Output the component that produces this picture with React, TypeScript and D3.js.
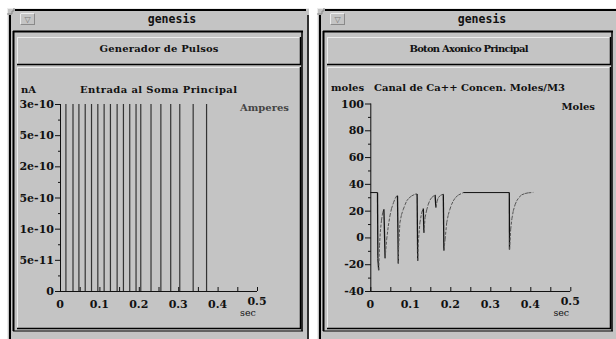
import React from "react";
import * as d3 from "d3";

// left window: pulse generator, amplitude in amperes
const pulseTimes = [0.015, 0.033, 0.048, 0.064, 0.08, 0.096, 0.112, 0.128, 0.145, 0.161, 0.177, 0.193, 0.205, 0.231, 0.256, 0.281, 0.304, 0.338, 0.372];
const pulseAmp = 3e-10;
const ampTicks = [0, 5e-11, 1e-10, 1.5e-10, 2e-10, 2.5e-10, 3e-10];
const ampTickLabels = ["0", "5e-11", "1e-10", "5e-10", "2e-10", "5e-10", "3e-10"];

// right window: Ca++ concentration trace [sec, moles]
const caTrace: [number, number][] = [
  [0, 33.5], [0.018, 33.5], [0.019, -16], [0.021, -24.5], [0.023, -6], [0.025, 4], [0.028, 13], [0.031, 18.5], [0.034, 21],
  [0.037, -15.5], [0.041, -1.3], [0.045, 8.5], [0.049, 16], [0.053, 21.5], [0.058, 26], [0.062, 29], [0.066, 31], [0.068, 31.2],
  [0.07, -19.4], [0.071, -6.3], [0.074, 11], [0.078, 17], [0.0825, 21], [0.087, 24.5], [0.091, 27.3], [0.097, 29.5], [0.1035, 31], [0.112, 32.3], [0.117, 32.5],
  [0.1185, -17.5], [0.12, -3.7], [0.124, 11], [0.1285, 18.7], [0.1325, 21.6],
  [0.134, 3.5], [0.137, 15], [0.141, 20.5], [0.145, 24.8], [0.149, 27.8], [0.1535, 29.8], [0.162, 31.8],
  [0.164, 22.4], [0.167, 27], [0.17, 29.8], [0.176, 31.5], [0.1825, 32.3],
  [0.184, -9.8], [0.187, -1.3], [0.191, 11], [0.195, 17], [0.199, 21], [0.203, 24.5], [0.2075, 27.3], [0.213, 29.8], [0.22, 31.6], [0.2325, 33.5],
  [0.3475, 33.5], [0.348, -9], [0.351, 6.2], [0.354, 14], [0.3575, 19.9], [0.362, 24.5], [0.366, 27.3], [0.372, 30], [0.3785, 31.8], [0.387, 32.8], [0.395, 33.3], [0.4075, 33.6],
];
const molesTicks = [-40, -20, 0, 20, 40, 60, 80, 100];

const timeTicks = [0, 0.1, 0.2, 0.3, 0.4, 0.5];
const timeMinor = d3.range(0, 0.5001, 0.05);

const BG = "#c4c4c4";
const LIGHT = "#ececec";
const DARK = "#000";
const LABEL_FONT = "'DejaVu Serif', serif";

function Window({ dx, title, children }: { dx: number; title: string; children?: React.ReactNode }) {
  return (
    <g transform={`translate(${dx},0)`}>
      {/* outer frame */}
      <rect x={7} y={8} width={302} height={340} fill={BG} />
      <line x1={7.5} y1={8} x2={7.5} y2={339} stroke={LIGHT} />
      <line x1={7} y1={8.5} x2={309} y2={8.5} stroke={LIGHT} />
      <path d="M7,14 L12,14 L12,11 L14,11 L14,8" fill="none" stroke="#888" />
      <line x1={15} y1={10} x2={306} y2={10} stroke={DARK} strokeWidth={2} />
      <line x1={10} y1={15} x2={10} y2={339} stroke={DARK} strokeWidth={2} />
      <line x1={308} y1={15} x2={308} y2={339} stroke={DARK} strokeWidth={1.5} />
      {/* menu button */}
      <rect x={20.5} y={13.5} width={14} height={11} fill={BG} stroke="#8a8a8a" />
      <line x1={20.5} y1={13.5} x2={34.5} y2={13.5} stroke={LIGHT} />
      <line x1={20.5} y1={13.5} x2={20.5} y2={24.5} stroke={LIGHT} />
      <text x={27.5} y={22} textAnchor="middle" fontSize={8} fill="#777" fontFamily="'DejaVu Sans'">▽</text>
      <text x={172} y={23} textAnchor="middle" fontSize={11.5} fontWeight="bold" fontFamily="'DejaVu Sans Mono', monospace" fill="#111">genesis</text>
      {/* inner border */}
      <line x1={13} y1={31.5} x2={303} y2={31.5} stroke={DARK} strokeWidth={2} />
      <line x1={13.5} y1={31} x2={13.5} y2={331} stroke={DARK} strokeWidth={2} />
      <line x1={302} y1={31} x2={302} y2={331} stroke={DARK} strokeWidth={1.5} />
      <line x1={13} y1={331} x2={303} y2={331} stroke={DARK} strokeWidth={1} />
      {/* title button */}
      <rect x={17} y={37} width={283} height={27} fill={BG} />
      <line x1={17} y1={37.5} x2={300} y2={37.5} stroke={LIGHT} />
      <line x1={17.5} y1={37} x2={17.5} y2={64} stroke={LIGHT} />
      <line x1={17} y1={64.5} x2={301} y2={64.5} stroke={DARK} strokeWidth={1.5} />
      <line x1={300.5} y1={37} x2={300.5} y2={65} stroke={DARK} strokeWidth={1.5} />
      <text x={159} y={52} textAnchor="middle" fontSize={10} fontWeight="bold" fontFamily={LABEL_FONT} textLength={119} fill="#111">{title}</text>
      {/* graph panel */}
      <line x1={17} y1={67.5} x2={300} y2={67.5} stroke={LIGHT} />
      <line x1={17.5} y1={67} x2={17.5} y2={328} stroke={LIGHT} />
      <line x1={17} y1={328.5} x2={301} y2={328.5} stroke={DARK} strokeWidth={1.5} />
      <line x1={300.5} y1={67} x2={300.5} y2={329} stroke={DARK} strokeWidth={1.5} />
      {children}
    </g>
  );
}

function TimeAxis({ x, y0 }: { x: d3.ScaleLinear<number, number>; y0: number }) {
  return (
    <g>
      <line x1={x(0)} y1={y0 + 0.5} x2={x(0.5)} y2={y0 + 0.5} stroke="#111" />
      {timeMinor.map((t, i) => (
        <line key={i} x1={x(t) + 0.5} x2={x(t) + 0.5} y1={y0} y2={y0 - 4} stroke="#111" />
      ))}
      {timeTicks.map((t, i) => (
        <text key={i} x={x(t)} y={i === 5 ? y0 + 14 : y0 + 17} textAnchor="middle" fontSize={11} fontWeight="bold" fontFamily={LABEL_FONT} fill="#111">
          {i === 0 ? "0" : d3.format(".1f")(t)}
        </text>
      ))}
      <text x={x(0.5) - 9} y={y0 + 25} textAnchor="middle" fontSize={9.5} fontFamily={LABEL_FONT} fill="#111">sec</text>
    </g>
  );
}

export default function App() {
  // left plot scales
  const xL = d3.scaleLinear().domain([0, 0.5]).range([60, 257]);
  const yL = d3.scaleLinear().domain([0, 3e-10]).range([291, 104]);
  // right plot scales (window shifted by 310)
  const xR = d3.scaleLinear().domain([0, 0.5]).range([60.3, 260.3]);
  const yR = d3.scaleLinear().domain([-40, 100]).range([291, 103.5]);

  const pts = caTrace.map(([t, v]) => [xR(t), yR(v)] as [number, number]);
  const segs = pts.slice(1).map((p, i) => ({ a: pts[i], b: p, fall: caTrace[i + 1][1] < caTrace[i][1] - 0.05, flat: Math.abs(caTrace[i + 1][1] - caTrace[i][1]) < 0.05 }));

  return (
    <svg width={616} height={339} style={{ position: "absolute", left: 0, top: 0, background: "#fff" }}>
      <Window dx={0} title="Generador de Pulsos">
        <text x={21} y={93} fontSize={10} fontWeight="bold" fontFamily={LABEL_FONT} fill="#111">nA</text>
        <text x={80} y={93} fontSize={10} fontWeight="bold" fontFamily={LABEL_FONT} textLength={157} fill="#111">Entrada al Soma Principal</text>
        <text x={289} y={111} textAnchor="end" fontSize={10} fontWeight="bold" fontFamily={LABEL_FONT} fill="#444">Amperes</text>
        {/* y axis */}
        <line x1={60.5} y1={yL(3e-10)} x2={60.5} y2={yL(0)} stroke="#111" />
        {ampTicks.map((v, i) => (
          <g key={i}>
            <line x1={55} x2={60.5} y1={yL(v) + 0.5} y2={yL(v) + 0.5} stroke="#111" />
            <text x={54} y={yL(v) + 4} textAnchor="end" fontSize={11} fontWeight="bold" fontFamily={LABEL_FONT} fill="#111">{ampTickLabels[i]}</text>
          </g>
        ))}
        {ampTicks.slice(1).map((v, i) => (
          <line key={i} x1={58} x2={60.5} y1={yL(v - 2.5e-11) + 0.5} y2={yL(v - 2.5e-11) + 0.5} stroke="#111" />
        ))}
        {pulseTimes.map((t, i) => (
          <line key={i} x1={xL(t)} x2={xL(t)} y1={yL(0)} y2={yL(pulseAmp)} stroke="#333" strokeWidth={1.2} />
        ))}
        <TimeAxis x={xL} y0={291} />
      </Window>

      <Window dx={310} title="Boton Axonico Principal">
        <text x={21} y={91} fontSize={10} fontWeight="bold" fontFamily={LABEL_FONT} fill="#111">moles</text>
        <text x={64} y={91} fontSize={10} fontWeight="bold" fontFamily={LABEL_FONT} textLength={191} fill="#111">Canal de Ca++ Concen. Moles/M3</text>
        <text x={285} y={110} textAnchor="end" fontSize={10} fontWeight="bold" fontFamily={LABEL_FONT} fill="#111">Moles</text>
        <line x1={60.8} y1={yR(100)} x2={60.8} y2={yR(-40)} stroke="#111" />
        {molesTicks.map((v, i) => (
          <g key={i}>
            <line x1={55} x2={60.8} y1={yR(v) + 0.5} y2={yR(v) + 0.5} stroke="#111" />
            <text x={54} y={yR(v) + 4} textAnchor="end" fontSize={11} fontWeight="bold" fontFamily={LABEL_FONT} fill="#111">{v}</text>
          </g>
        ))}
        {molesTicks.slice(1).map((v, i) => (
          <line key={i} x1={58} x2={60.8} y1={yR(v - 10) + 0.5} y2={yR(v - 10) + 0.5} stroke="#111" />
        ))}
        {segs.map((s, i) => (
          <line key={i} x1={s.a[0]} y1={s.a[1]} x2={s.b[0]} y2={s.b[1]}
            stroke={s.fall || s.flat ? "#111" : "#555"}
            strokeWidth={s.fall ? 1.3 : 1}
            strokeDasharray={s.fall || s.flat ? undefined : "3,1.5"} />
        ))}
        <TimeAxis x={xR} y0={291} />
      </Window>
    </svg>
  );
}
